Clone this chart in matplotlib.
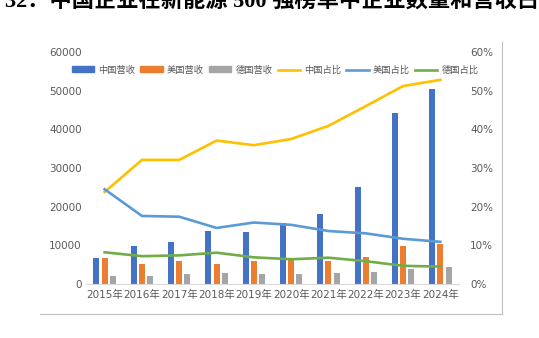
import matplotlib.pyplot as plt
import numpy as np
from matplotlib.lines import Line2D
from matplotlib.patches import Patch

years = ['2015年', '2016年', '2017年', '2018年', '2019年',
         '2020年', '2021年', '2022年', '2023年', '2024年']

# 营收
cn_rev = [6650, 9750, 10780, 13620, 13450, 15770, 18020, 25080, 44300, 50430]
us_rev = [6800, 5250, 5860, 5250, 5860, 6200, 5860, 6980, 9830, 10340]
de_rev = [2150, 2070, 2500, 2840, 2500, 2500, 2930, 3190, 3960, 4310]

# 占比
cn_share = [0.238, 0.321, 0.321, 0.371, 0.359, 0.375, 0.409, 0.46, 0.512, 0.528]
us_share = [0.245, 0.176, 0.174, 0.145, 0.159, 0.153, 0.137, 0.131, 0.117, 0.109]
de_share = [0.082, 0.072, 0.074, 0.081, 0.069, 0.064, 0.068, 0.059, 0.047, 0.045]

c_blue = '#4472C4'
c_orange = '#ED7D31'
c_gray = '#A5A5A5'
c_yellow = '#FFC000'
c_lblue = '#5B9BD5'
c_green = '#70AD47'
txt = '#595959'

cjk = ['DejaVu Sans', 'Noto Sans CJK SC']

fig = plt.figure(figsize=(5.39, 3.38), dpi=100)
ax = fig.add_axes([86 / 539, 1 - 284 / 338, (459 - 86) / 539, (284 - 52) / 338])
ax2 = ax.twinx()

x = np.arange(len(years))
w = 0.16
ax.bar(x - 0.22, cn_rev, w, color=c_blue)
ax.bar(x, us_rev, w, color=c_orange)
ax.bar(x + 0.22, de_rev, w, color=c_gray)

ax2.plot(x, cn_share, color=c_yellow, lw=1.9)
ax2.plot(x, us_share, color=c_lblue, lw=1.9)
ax2.plot(x, de_share, color=c_green, lw=1.9)

ax.set_xlim(-0.5, len(years) - 0.5)
ax.set_ylim(0, 60000)
ax2.set_ylim(0, 0.6)
ax.set_yticks(range(0, 60001, 10000))
ax2.set_yticks(np.arange(0, 0.61, 0.1))
ax2.set_yticklabels([f'{int(round(v * 100))}%' for v in np.arange(0, 0.61, 0.1)])
ax.set_xticks(x)
ax.set_xticklabels(years, family=cjk)

for a in (ax, ax2):
    for s in a.spines.values():
        s.set_visible(False)
ax.spines['bottom'].set_visible(True)
ax.spines['bottom'].set_color('#D9D9D9')

ax.tick_params(axis='y', length=0, pad=3, labelsize=7.5, labelcolor=txt)
ax.tick_params(axis='x', length=0, pad=4, labelsize=7.5, labelcolor=txt)
ax2.tick_params(axis='y', length=0, pad=8, labelsize=7.5, labelcolor=txt)

handles = [Patch(color=c_blue), Patch(color=c_orange), Patch(color=c_gray),
           Line2D([], [], color=c_yellow, lw=1.9),
           Line2D([], [], color=c_lblue, lw=1.9),
           Line2D([], [], color=c_green, lw=1.9)]
labels = ['中国营收', '美国营收', '德国营收', '中国占比', '美国占比', '德国占比']
leg = fig.legend(handles, labels, loc='center', bbox_to_anchor=(275 / 539, 1 - 70 / 338),
                 ncol=6, frameon=False, handlelength=2.4, handleheight=0.6,
                 handletextpad=0.45, columnspacing=0.55,
                 prop={'family': 'Noto Sans CJK SC', 'size': 6.7})
for t in leg.get_texts():
    t.set_color(txt)

# 外框
fig.add_artist(Line2D([40 / 539, 502 / 539], [1 - 314 / 338] * 2, color='#BFBFBF', lw=0.8))
fig.add_artist(Line2D([502 / 539] * 2, [1 - 314 / 338, 1 - 42 / 338], color='#BFBFBF', lw=0.8))

fig.text(5 / 539, 1 - 1 / 338, '32：中国企业在新能源 500 强榜单中企业数量和营收占比',
         family=['Liberation Serif', 'Noto Sans CJK SC'], weight='bold', fontsize=16,
         va='center', ha='left', color='black')

fig.savefig('out.png', dpi=100)
